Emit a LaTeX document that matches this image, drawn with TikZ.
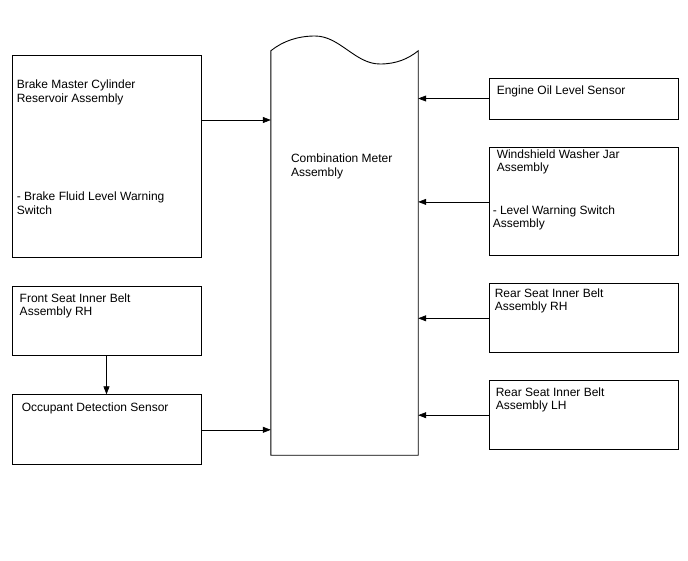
\documentclass[tikz,border=0pt]{standalone}
\usepackage{fontspec}
\setmainfont{Liberation Sans}
\usetikzlibrary{arrows.meta, positioning}

\begin{document}
\begin{tikzpicture}[
            x=1pt, y=-1pt,
            >={Triangle[length=8pt, width=6pt]},
            % unit boxes around the meter
            unit/.style={
                draw=black,
                rectangle,
                minimum width=189pt,
                line width=0.9pt,
                inner sep=0pt
            },
            % text in the top left of a box
            boxtext/.style={
                anchor=north west,
                align=left,
                inner sep=0pt,
                font=\fontsize{12}{13.6}\selectfont
            },
            % signal lines
            signal/.style={
                draw=black,
                ->,
                line width=0.6pt
            }
        ]

            \useasboundingbox (0,0) rectangle (688,560);

            % central meter, wavy top
            \node [minimum width=147pt, minimum height=404pt, inner sep=0pt] (meter) at (344.5,253) {};
            \draw [line width=0.9pt] (meter.north west)
                .. controls (283,41) and (298,36) .. (315,36)
                .. controls (340,36) and (355,64) .. (380,64)
                .. controls (396,64) and (408,59) .. (meter.north east)
                -- (meter.south east) -- (meter.south west) -- cycle;
            \node [boxtext, below right=103pt and 20pt of meter.north west] (meterT) {Combination Meter\\Assembly};

            % left column
            \node [unit, minimum height=202pt] (brake) at (106.5,156) {};
            \node [unit, minimum height=69pt, below=29pt of brake] (front) {};
            \node [unit, minimum height=70pt, below=38pt of front] (occupant) {};

            \node [boxtext, below right=25pt and 5pt of brake.north west] (brakeT) {Brake Master Cylinder\\Reservoir Assembly\\[85pt]- Brake Fluid Level Warning\\Switch};
            \node [boxtext, below right=7pt and 8pt of front.north west] (frontT) {Front Seat Inner Belt\\Assembly RH};
            \node [boxtext, below right=8pt and 10pt of occupant.north west] (occupantT) {Occupant Detection Sensor};

            % right column
            \node [unit, minimum height=41pt] (engine) at (583.5,98.5) {};
            \node [unit, minimum height=108pt, below=28pt of engine] (washer) {};
            \node [unit, minimum height=69pt, below=27pt of washer] (rearRH) {};
            \node [unit, minimum height=69pt, below=27pt of rearRH] (rearLH) {};

            \node [boxtext, below right=8pt and 8pt of engine.north west] (engineT) {Engine Oil Level Sensor};
            \node [boxtext, below right=2pt and 8pt of washer.north west] (washerT) {Windshield Washer Jar\\Assembly};
            \node [boxtext, below right=58pt and 4pt of washer.north west] (switchT) {- Level Warning Switch\\Assembly};
            \node [boxtext, below right=5pt and 6pt of rearRH.north west] (rearRHT) {Rear Seat Inner Belt\\Assembly RH};
            \node [boxtext, below right=7pt and 7pt of rearLH.north west] (rearLHT) {Rear Seat Inner Belt\\Assembly LH};

            % signals into the meter
            \draw [signal] (brake.east |- 0,120) -- (meter.west |- 0,120);
            \draw [signal] (front) -- (occupant);
            \draw [signal] (occupant.east) -- (occupant.east -| meter.west);
            \draw [signal] (engine.west) -- (engine.west -| meter.east);
            \draw [signal] (washer.west) -- (washer.west -| meter.east);
            \draw [signal] (rearRH.west) -- (rearRH.west -| meter.east);
            \draw [signal] (rearLH.west) -- (rearLH.west -| meter.east);

        \end{tikzpicture}
\end{document}
